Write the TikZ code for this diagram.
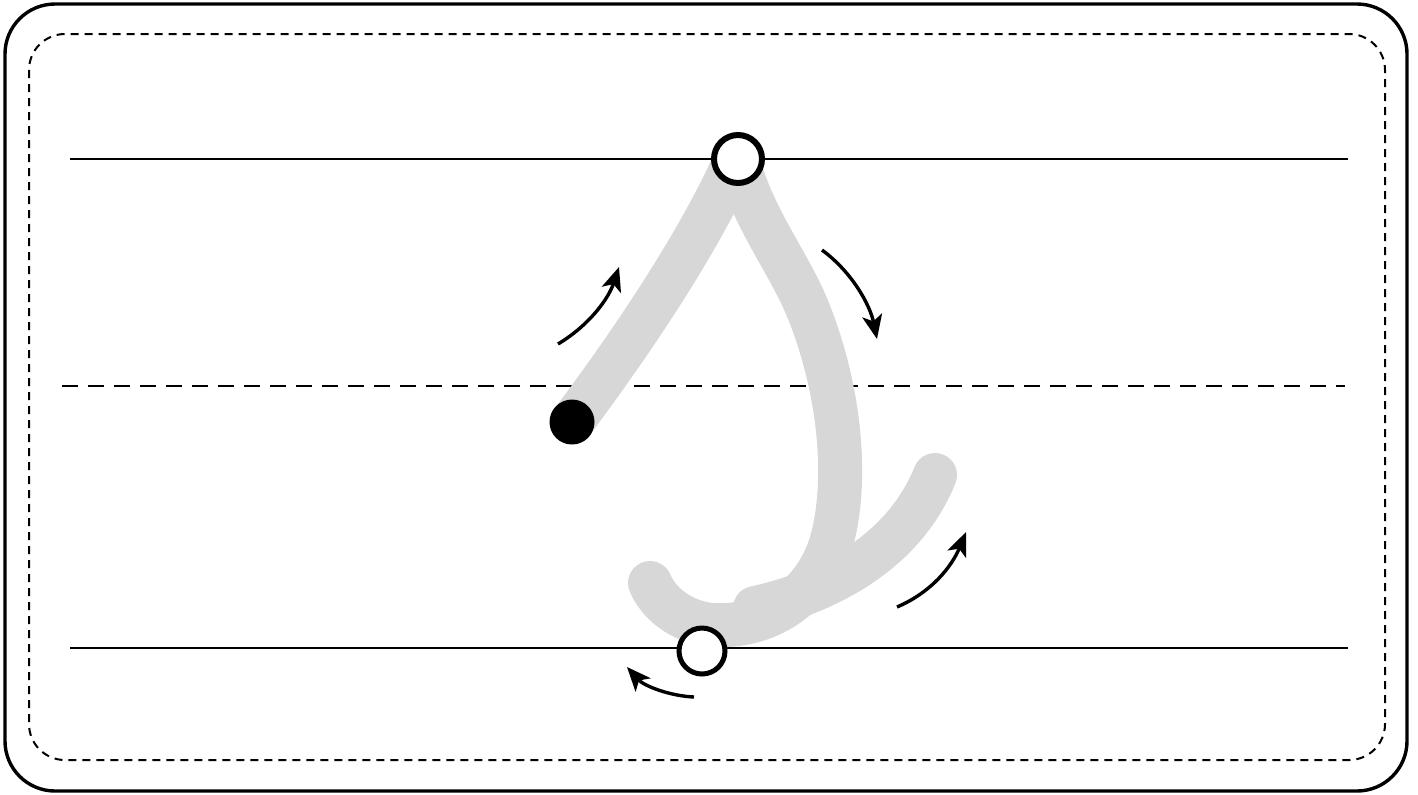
\documentclass[tikz,border=0pt]{standalone}
\usetikzlibrary{arrows.meta}
\definecolor{strokegray}{HTML}{D7D7D7}
\tikzset{
  frame/.style={line width=1.7pt, rounded corners=25pt},
  innerframe/.style={line width=1pt, dash pattern=on 4pt off 3pt, rounded corners=18pt},
  guide/.style={line width=1.3pt},
  midguide/.style={line width=1.4pt, dash pattern=on 8pt off 5pt},
  letter/.style={strokegray, line width=22pt, line cap=round, line join=round},
  hollow/.style={circle, draw=black, fill=white, inner sep=0pt},
  startdot/.style={circle, fill=black, inner sep=0pt, minimum size=22.5pt},
  hint/.style={line width=1.7pt, -{Stealth[length=12pt, width=10pt, inset=3pt]}}
}
\begin{document}
\begin{tikzpicture}[x=0.5pt, y=-0.5pt]
\useasboundingbox (0,0) rectangle (1418,794);
% frames
\draw[frame] (5,4) rectangle (1407,791);
\draw[innerframe] (29,34) rectangle (1385,760);
% guide lines
\coordinate (tl) at (70,159); \coordinate (tr) at (1348,159);
\coordinate (ml) at (62,386); \coordinate (mr) at (1345,386);
\coordinate (bl) at (70,648); \coordinate (br) at (1348,648);
\draw[guide] (tl) -- (tr);
\draw[midguide] (ml) -- (mr);
\draw[guide] (bl) -- (br);
% key points
\coordinate (s) at (572,422);
\coordinate (t) at (738,159);
\coordinate (b) at (702,651);
% letter strokes
\draw[letter] (s) .. controls (635,338) and (696,245) .. (730,172);
\draw[letter] (742,175) .. controls (760,230) and (794,270) .. (812,320)
  .. controls (840,395) and (848,480) .. (832,540)
  .. controls (815,600) and (765,628) .. (712,625)
  .. controls (680,622) and (658,602) .. (650,583);
\draw[letter] (755,608) .. controls (830,592) and (905,550) .. (935,475);
% nodes
\node[startdot] (sd) at (s) {};
\node[hollow, line width=3pt, minimum size=24pt] (td) at (t) {};
\node[hollow, line width=2.5pt, minimum size=23pt] (bd) at (b) {};
% direction hints
\coordinate (a1s) at (558,344); \coordinate (a1e) at (619,267);
\coordinate (a2s) at (822,250); \coordinate (a2e) at (877,339);
\coordinate (a3s) at (897,607); \coordinate (a3e) at (966,532);
\coordinate (a4s) at (694,697); \coordinate (a4e) at (627,667);
\draw[hint] (a1s) .. controls (588,326) and (608,300) .. (a1e);
\draw[hint] (a2s) .. controls (852,272) and (870,305) .. (a2e);
\draw[hint] (a3s) .. controls (932,592) and (952,566) .. (a3e);
\draw[hint] (a4s) .. controls (670,696) and (644,686) .. (a4e);
\end{tikzpicture}
\end{document}
